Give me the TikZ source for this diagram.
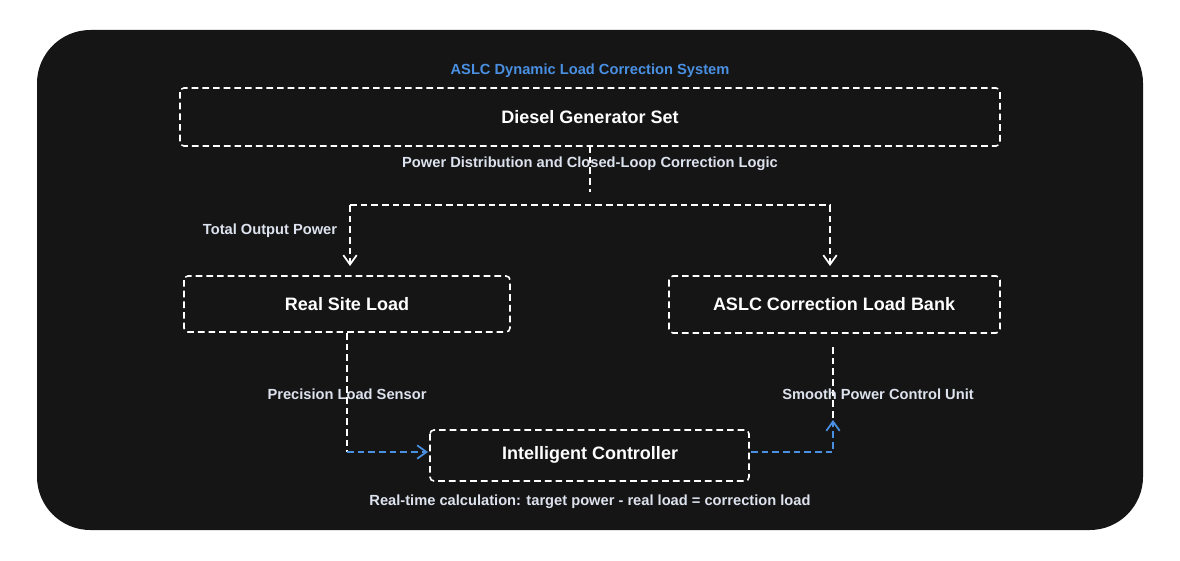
\documentclass[tikz,border=0pt]{standalone}
\usepackage{fontspec}
\setmainfont{Liberation Sans}
\usetikzlibrary{arrows.meta}
\definecolor{bg}{HTML}{151515}
\definecolor{ablue}{HTML}{4A90E2}
\definecolor{lbl}{HTML}{DDE3EE}
\begin{document}
\begin{tikzpicture}[x=0.75pt,y=-0.75pt,
  box/.style={draw=white,dashed,line width=1.2pt,rounded corners=3pt,dash pattern=on 5pt off 3pt},
  btxt/.style={text=white,font=\bfseries\fontsize{13.5}{16}\selectfont},
  ltxt/.style={text=lbl,font=\bfseries\fontsize{11}{13}\selectfont},
  wl/.style={draw=white,line width=1.2pt,dash pattern=on 5pt off 3pt},
  bl/.style={draw=ablue,line width=1.2pt,dash pattern=on 5pt off 3pt},
  tip/.style={-{Straight Barb[length=7pt,width=10pt,line width=1.3pt]}}]
\useasboundingbox (0,0) rectangle (1180,560);
\fill[white] (0,0) rectangle (1180,560);
\fill[bg,rounded corners=40pt] (37,30) rectangle (1143,530);
\node[text=ablue,font=\bfseries\fontsize{11}{13}\selectfont] (title) at (590,71) {ASLC Dynamic Load Correction System};
\draw[box] (180,88) rectangle (1000,146);
\node[btxt] (dg) at (590,117) {Diesel Generator Set};
\draw[box] (184,276) rectangle (510,332);
\node[btxt] (rsl) at (347,304) {Real Site Load};
\draw[box] (669,276) rectangle (1000,333);
\node[btxt] (aslc) at (834,304) {ASLC Correction Load Bank};
\draw[box] (430,430) rectangle (749,481);
\node[btxt] (ic) at (590,455) {Intelligent Controller};
\coordinate (d0) at (590,146);
\coordinate (d1) at (590,192);
\coordinate (hl) at (350,205);
\coordinate (hr) at (830,205);
\coordinate (al) at (350,266);
\coordinate (ar) at (830,266);
\draw[wl] (d0) -- (d1);
\draw[wl,tip] (al |- hl) -- (hr) -- (ar);
\draw[wl,tip] (hl) -- (al);
\node[ltxt] (pd) at (590,164) {Power Distribution and Closed-Loop Correction Logic};
\node[ltxt] (top) at (270,231) {Total Output Power};
\coordinate (s0) at (347,333);
\coordinate (s1) at (347,452);
\coordinate (s2) at (428,452);
\draw[wl] (s0) -- (s1);
\draw[bl,tip] (s1) -- (s2);
\coordinate (c0) at (751,452);
\coordinate (c1) at (833,452);
\coordinate (c2) at (833,420);
\coordinate (c3) at (833,347);
\draw[bl,tip] (c0) -- (c1) -- (c2);
\draw[wl] (c3) -- (c2);
\node[ltxt] (pls) at (347,394) {Precision Load Sensor};
\node[ltxt] (spc) at (878,394) {Smooth Power Control Unit};
\node[ltxt] (rt) at (590,502) {Real-time calculation: target power - real load = correction load};
\end{tikzpicture}
\end{document}
